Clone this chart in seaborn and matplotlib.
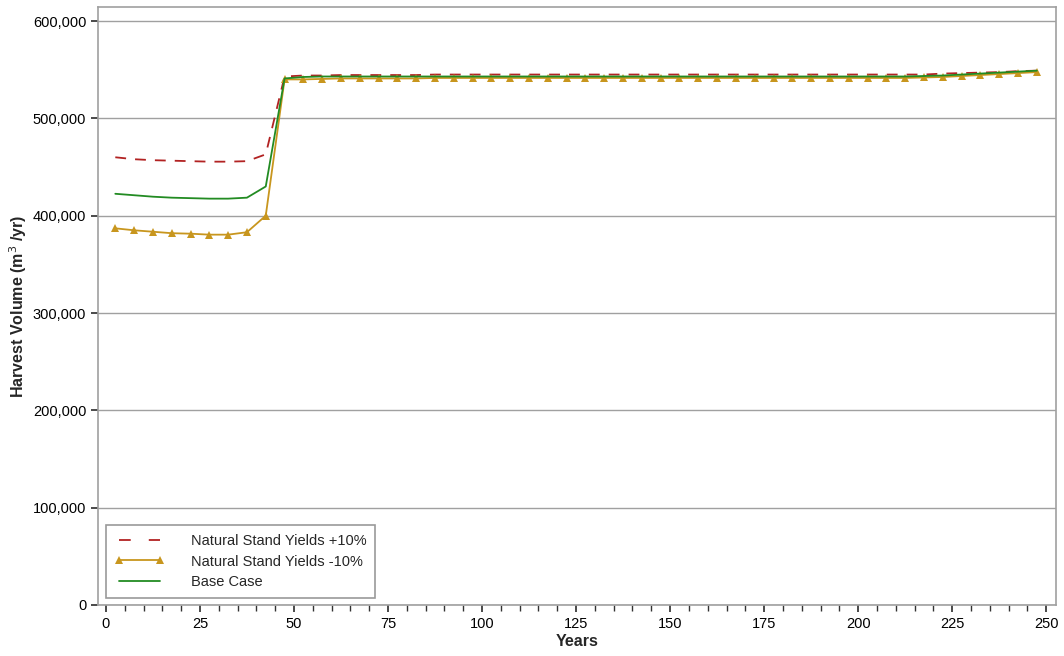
import numpy as np
import pandas as pd
import matplotlib
matplotlib.use("Agg")
import matplotlib.pyplot as plt
import seaborn as sns
from matplotlib.ticker import FuncFormatter, MultipleLocator

years = [2.5 + 5 * i for i in range(50)]

plus10 = [460, 458, 457, 456.5, 456, 455.5, 455.5, 456, 463, 543,
          544, 544, 544.5, 544.5, 544.5, 544.5, 544.5, 545, 545, 545,
          545, 545, 545, 545, 545, 545, 545, 545, 545, 545,
          545, 545, 545, 545, 545, 545, 545, 545, 545, 545,
          545, 545, 545, 545, 546, 546.5, 547, 547.5, 548.5, 549]
minus10 = [387, 385, 383.5, 382, 381.5, 380.5, 380.5, 383, 400, 540,
           540, 540.5, 541, 541, 541, 541, 541, 541.5, 541.5, 541.5,
           541.5, 541.5, 541.5, 541.5, 541.5, 541.5, 541.5, 541.5, 541.5, 541.5,
           541.5, 541.5, 541.5, 541.5, 541.5, 541.5, 541.5, 541.5, 541.5, 541.5,
           541.5, 541.5, 541.5, 542, 542.5, 543.5, 544.5, 545.5, 546.5, 547.5]
base = [422.5, 421, 419.5, 418.5, 418, 417.5, 417.5, 418.5, 430, 541,
        542.5, 543, 543, 543, 543, 543, 543, 543, 543, 543,
        543, 543, 543, 543, 543, 543, 543, 543, 543, 543,
        543, 543, 543, 543, 543, 543, 543, 543, 543, 543,
        543, 543, 543, 543.5, 544, 545, 546, 547, 548, 549]

series_names = ["Natural Stand Yields +10%", "Natural Stand Yields -10%", "Base Case"]

sns.set_theme(style="white")
plt.rcParams['font.family'] = ['Liberation Sans', 'DejaVu Sans']

fig = plt.figure(figsize=(10.64, 6.56), dpi=100)
ax = fig.add_axes([98 / 1064, 1 - 605 / 656, (1056 - 98) / 1064, (605 - 7) / 656])

sns.lineplot(x=years, y=[v * 1000 for v in plus10], color="#b22222", linewidth=1.3,
             label=series_names[0], ax=ax)
ax.lines[-1].set_dashes((6, 5))
sns.lineplot(x=years, y=[v * 1000 for v in minus10], color="#c8961e", linewidth=1.3,
             marker="^", markersize=6, markeredgewidth=0, label=series_names[1], ax=ax)
sns.lineplot(x=years, y=[v * 1000 for v in base], color="#228b22", linewidth=1.3,
             label=series_names[2], ax=ax)

ax.set_xlim(-2.1, 252.6)
ax.set_ylim(0, 614400)
ax.set_yticks(range(0, 600001, 100000))
ax.yaxis.set_major_formatter(FuncFormatter(lambda v, p: f"{int(v):,}"))
ax.xaxis.set_major_locator(MultipleLocator(25))
ax.xaxis.set_minor_locator(MultipleLocator(5))
ax.grid(axis="y", color="#a0a0a0", linewidth=1)
ax.set_axisbelow(True)
for s in ax.spines.values():
    s.set_color("#a0a0a0")
    s.set_linewidth(1.2)
ax.tick_params(axis="both", which="both", direction="out", colors="#333333", labelsize=10.5,
               bottom=True, left=True)
ax.tick_params(axis="x", which="major", length=5, labelcolor="black")
ax.tick_params(axis="x", which="minor", length=4)
ax.tick_params(axis="y", length=5, labelcolor="black")

ax.set_xlabel("Years", fontsize=11.5, fontweight="bold", labelpad=2)
ax.set_ylabel("Harvest Volume (m$^3$ /yr)", fontsize=11.5, fontweight="bold", labelpad=3)

leg = ax.legend(loc="lower left", bbox_to_anchor=(0.0085, 0.012), borderaxespad=0,
                frameon=True, fancybox=False, numpoints=2,
                edgecolor="#808080", fontsize=10.5, handlelength=3.4, handletextpad=1.8,
                borderpad=0.6, labelspacing=0.45)
leg.get_frame().set_linewidth(1.2)
leg.legend_handles[0].set_dashes((6.5, 10))

fig.savefig("out.png", dpi=100)
